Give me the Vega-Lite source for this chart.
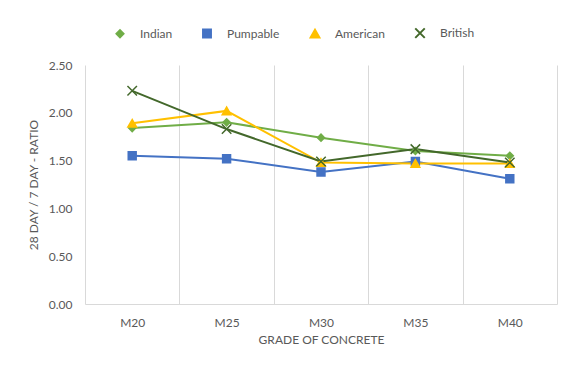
{
  "$schema": "https://vega.github.io/schema/vega-lite/v6.json",
  "width": 472,
  "height": 239,
  "autosize": {"type": "none"},
  "padding": {"left": 85, "top": 65, "right": 12, "bottom": 65},
  "background": "white",
  "config": {
    "view": {"stroke": null},
    "font": "Lato",
    "axis": {"labelFont": "Lato", "titleFont": "Lato", "labelColor": "#595959", "titleColor": "#595959", "labelFontSize": 12, "titleFontSize": 12, "titleFontWeight": "normal"},
    "legend": {"labelFont": "Lato", "labelFontSize": 12, "labelColor": "#595959"}
  },
  "data": {
    "values": [
      {"Grade": "M20", "Series": "Indian", "Ratio": 1.84},
      {"Grade": "M25", "Series": "Indian", "Ratio": 1.90},
      {"Grade": "M30", "Series": "Indian", "Ratio": 1.74},
      {"Grade": "M35", "Series": "Indian", "Ratio": 1.60},
      {"Grade": "M40", "Series": "Indian", "Ratio": 1.55},
      {"Grade": "M20", "Series": "Pumpable", "Ratio": 1.55},
      {"Grade": "M25", "Series": "Pumpable", "Ratio": 1.52},
      {"Grade": "M30", "Series": "Pumpable", "Ratio": 1.38},
      {"Grade": "M35", "Series": "Pumpable", "Ratio": 1.49},
      {"Grade": "M40", "Series": "Pumpable", "Ratio": 1.31},
      {"Grade": "M20", "Series": "American", "Ratio": 1.89},
      {"Grade": "M25", "Series": "American", "Ratio": 2.02},
      {"Grade": "M30", "Series": "American", "Ratio": 1.48},
      {"Grade": "M35", "Series": "American", "Ratio": 1.47},
      {"Grade": "M40", "Series": "American", "Ratio": 1.47},
      {"Grade": "M20", "Series": "British", "Ratio": 2.23},
      {"Grade": "M25", "Series": "British", "Ratio": 1.83},
      {"Grade": "M30", "Series": "British", "Ratio": 1.49},
      {"Grade": "M35", "Series": "British", "Ratio": 1.62},
      {"Grade": "M40", "Series": "British", "Ratio": 1.48}
    ]
  },
  "encoding": {
    "x": {
      "field": "Grade", "type": "nominal", "sort": ["M20", "M25", "M30", "M35", "M40"],
      "scale": {"type": "band", "paddingInner": 0, "paddingOuter": 0},
      "axis": {"title": "GRADE OF CONCRETE", "labelAngle": 0, "grid": true, "gridColor": "#D9D9D9", "tickBand": "extent", "ticks": false, "domain": true, "domainColor": "#D9D9D9", "labelPadding": 13, "titlePadding": 6}
    },
    "y": {
      "field": "Ratio", "type": "quantitative",
      "scale": {"domain": [0, 2.5], "nice": false},
      "axis": {"title": "28 DAY / 7 DAY - RATIO", "values": [0, 0.5, 1, 1.5, 2, 2.5], "format": ".2f", "grid": false, "domain": false, "ticks": false, "labelPadding": 13, "titlePadding": 8}
    }
  },
  "layer": [
    {
      "mark": {"type": "line", "strokeWidth": 2},
      "encoding": {
        "stroke": {
          "field": "Series", "type": "nominal",
          "scale": {"domain": ["Indian", "Pumpable", "American", "British"], "range": ["#70AD47", "#4472C4", "#FFC000", "#43682B"]},
          "legend": {
            "title": null, "orient": "none", "legendX": 29, "legendY": -38, "direction": "horizontal", "columns": 4,
            "columnPadding": 26, "labelOffset": 14, "symbolStrokeWidth": 2, "padding": 0
          }
        }
      }
    },
    {
      "mark": {"type": "point", "strokeWidth": 1.5, "opacity": 1, "fillOpacity": 1},
      "encoding": {
        "stroke": {"field": "Series", "type": "nominal"},
        "fill": {"field": "Series", "type": "nominal", "scale": {"domain": ["Indian", "Pumpable", "American", "British"], "range": ["#70AD47", "#4472C4", "#FFC000", "#43682B"]}, "legend": null},
        "shape": {"field": "Series", "type": "nominal", "scale": {"domain": ["Indian", "Pumpable", "American", "British"], "range": ["diamond", "square", "triangle-up", "M-1,-1L1,1M-1,1L1,-1"]}, "legend": null},
        "size": {"field": "Series", "type": "nominal", "scale": {"domain": ["Indian", "Pumpable", "American", "British"], "range": [49, 90, 64, 64]}, "legend": null}
      }
    }
  ]
}
